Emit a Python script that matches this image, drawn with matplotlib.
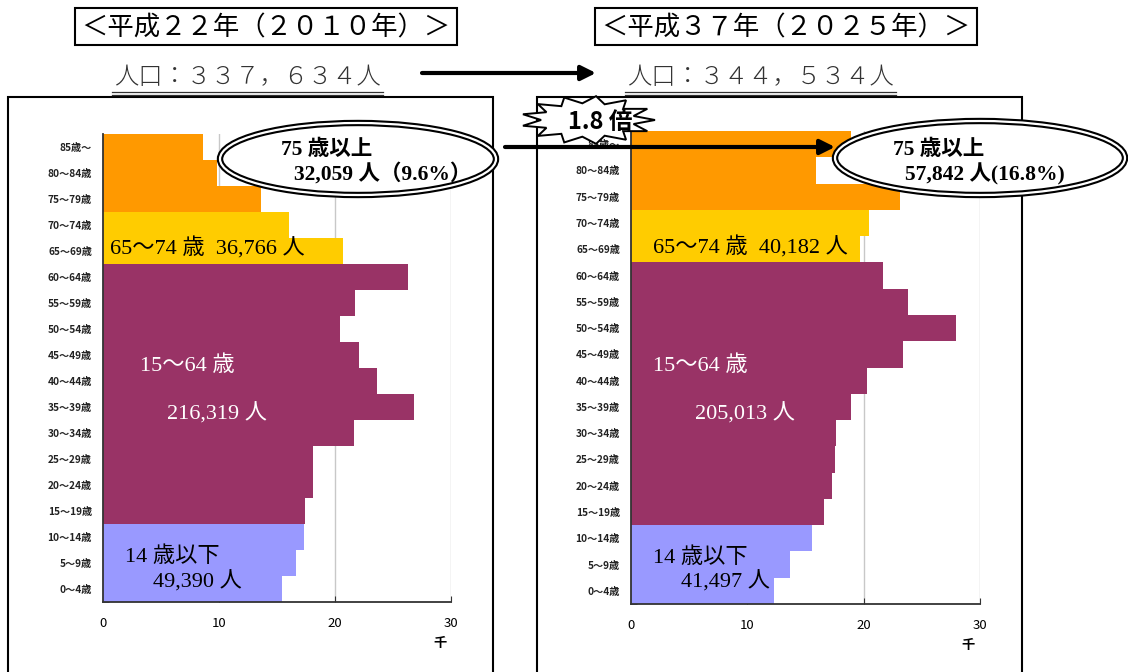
import matplotlib
matplotlib.use("Agg")
import matplotlib.pyplot as plt
from matplotlib.patches import Rectangle, Ellipse, Polygon, FancyArrowPatch
from matplotlib.lines import Line2D
import numpy as np

plt.rcParams['font.family'] = ['Noto Sans CJK JP', 'DejaVu Sans']
SERIF = ['Liberation Serif', 'Noto Sans CJK JP']

# age groups, bottom to top
ages = ["0～4歳", "5～9歳", "10～14歳", "15～19歳", "20～24歳", "25～29歳",
        "30～34歳", "35～39歳", "40～44歳", "45～49歳", "50～54歳", "55～59歳",
        "60～64歳", "65～69歳", "70～74歳", "75～79歳", "80～84歳", "85歳～"]

# population in thousands
pop_2010 = [15.4, 16.6, 17.3, 17.4, 18.1, 18.1, 21.6, 26.8, 23.6, 22.1,
            20.4, 21.7, 26.25, 20.7, 16.0, 13.65, 9.85, 8.6]
pop_2025 = [12.3, 13.7, 15.6, 16.6, 17.3, 17.5, 17.6, 18.9, 20.3, 23.4,
            27.9, 23.8, 21.7, 19.7, 20.5, 23.1, 15.9, 18.9]

# group totals: 0-14, 15-64, 65-74, 75+
totals_2010 = [49390, 216319, 36766, 32059]
totals_2025 = [41497, 205013, 40182, 57842]
total_2010 = "３３７，６３４"
total_2025 = "３４４，５３４"
share_75_2010 = 9.6
share_75_2025 = 16.8

group_colors = ['#9999FF'] * 3 + ['#993366'] * 10 + ['#FFCC00'] * 2 + ['#FF9900'] * 3

W, H = 1128, 672
fig = plt.figure(figsize=(W / 100, H / 100), dpi=100)


def fx(px):
    return px / W


def fy(py):
    return 1 - py / H


def pyramid(x0, x1, ytop, ybot, values):
    ax = fig.add_axes([fx(x0), fy(ybot), (x1 - x0) / W, (ybot - ytop) / H])
    y = np.arange(len(ages))
    ax.barh(y, values, height=1.0, color=group_colors, zorder=2)
    ax.set_xlim(0, 30)
    ax.set_ylim(-0.5, len(ages) - 0.5)
    ax.set_xticks([0, 10, 20, 30])
    ax.grid(axis='x', color='#c8c8c8', lw=1.0, zorder=0)
    ax.set_yticks(y)
    ax.set_yticklabels(ages, fontsize=7.3, fontweight='bold', color='#222222')
    ax.set_yticks(np.arange(-0.5, len(ages), 1), minor=True)
    ax.tick_params(axis='y', which='major', length=0, pad=8)
    ax.tick_params(axis='y', which='minor', direction='in', length=4,
                   color='#333333')
    ax.tick_params(axis='x', direction='in', length=4, pad=11, labelsize=9.5,
                   color='#333333')
    for s in ('top', 'right'):
        ax.spines[s].set_visible(False)
    for s in ('left', 'bottom'):
        ax.spines[s].set_color('#333333')
        ax.spines[s].set_linewidth(1.3)
        ax.spines[s].set_zorder(3)
    return ax


pyramid(103, 451, 134, 602, pop_2010)
pyramid(631, 980, 131, 604, pop_2025)


def ftext(px, py, s, **kw):
    fig.text(fx(px), fy(py), s, **kw)


# outer frames
for left, right in [(8, 493), (537, 1022)]:
    fig.add_artist(Rectangle((fx(left), fy(700)), (right - left) / W, (700 - 97) / H,
                             transform=fig.transFigure, fill=False,
                             edgecolor='black', lw=1.5, zorder=1))

# year headings
for left, right, label in [(75, 457, "＜平成２２年（２０１０年）＞"),
                           (595, 977, "＜平成３７年（２０２５年）＞")]:
    fig.add_artist(Rectangle((fx(left), fy(45)), (right - left) / W, 37 / H,
                             transform=fig.transFigure, fill=False,
                             edgecolor='black', lw=1.5))
    ftext((left + right) / 2, 28, label, fontsize=19, ha='center', va='center')

# total population with double underline
for left, right, total in [(112, 383, total_2010), (625, 896, total_2025)]:
    ftext((left + right) / 2, 78, "人口：" + total + "人", fontsize=17.5,
          ha='center', va='center', color='#333333', fontweight='light')
    for yy in (91.5, 94.5):
        fig.add_artist(Line2D([fx(left), fx(right)], [fy(yy), fy(yy)],
                              transform=fig.transFigure, color='#333333', lw=0.9))

# arrows
for xa, xb, yy in [(422, 596, 73), (505, 835, 147)]:
    fig.add_artist(FancyArrowPatch((fx(xa), fy(yy)), (fx(xb), fy(yy)),
                                   transform=fig.transFigure, arrowstyle='-|>',
                                   mutation_scale=22, lw=3, color='black',
                                   shrinkA=0, shrinkB=0, zorder=5))


# 75+ callouts
def callout(cx, cy, w, h, tx, ty, line1, line2):
    fig.add_artist(Ellipse((fx(cx), fy(cy)), w / W, h / H,
                           transform=fig.transFigure, facecolor='white',
                           edgecolor='black', lw=4.6, zorder=6))
    fig.add_artist(Ellipse((fx(cx), fy(cy)), w / W, h / H,
                           transform=fig.transFigure, fill=False,
                           edgecolor='white', lw=1.6, zorder=6))
    fig.text(fx(tx[0]), fy(ty[0]), line1, family=SERIF, fontsize=15.5,
             fontweight='bold', va='center', zorder=7)
    fig.text(fx(tx[1]), fy(ty[1]), line2, family=SERIF, fontsize=15.5,
             fontweight='bold', va='center', zorder=7)


callout(358, 159, 276, 72, (281, 294), (150, 174),
        "75 歳以上", f"{totals_2010[3]:,} 人（{share_75_2010}%）")
callout(980, 158, 290, 74, (893, 905), (150, 174),
        "75 歳以上", f"{totals_2025[3]:,} 人({share_75_2025}%)")

# starburst behind "1.8倍"
n = 26
ang = np.linspace(0, 2 * np.pi, n, endpoint=False)
rad = np.where(np.arange(n) % 2 == 0, 1.0, 0.7)
bx = 588 + 67 * rad * np.cos(ang)
by = 120 + 24 * rad * np.sin(ang)
fig.add_artist(Polygon(np.column_stack([fx(bx), fy(by)]), closed=True,
                       transform=fig.transFigure, facecolor='white',
                       edgecolor='black', lw=1.4, zorder=6))
ftext(600, 122, "1.8 倍", fontsize=17, fontweight='bold', ha='center',
      va='center', zorder=7)

# group labels inside the bars
labels = [
    # (x, y, text, color)
    (110, 248, f"65～74 歳  {totals_2010[2]:,} 人", 'black'),
    (140, 366, "15～64 歳", 'white'),
    (167, 414, f"{totals_2010[1]:,} 人", 'white'),
    (125, 557, "14 歳以下", 'black'),
    (153, 582, f"{totals_2010[0]:,} 人", 'black'),
    (653, 247, f"65～74 歳  {totals_2025[2]:,} 人", 'black'),
    (653, 366, "15～64 歳", 'white'),
    (695, 414, f"{totals_2025[1]:,} 人", 'white'),
    (653, 558, "14 歳以下", 'black'),
    (681, 582, f"{totals_2025[0]:,} 人", 'black'),
]
for px, py, s, c in labels:
    ftext(px, py, s, family=SERIF, fontsize=16, color=c, va='center', zorder=4)

# unit label
ftext(440, 643, "千", fontsize=9.5, fontweight='bold', ha='center', va='center')
ftext(968, 645, "千", fontsize=9.5, fontweight='bold', ha='center', va='center')

fig.savefig("out.png", dpi=100)
